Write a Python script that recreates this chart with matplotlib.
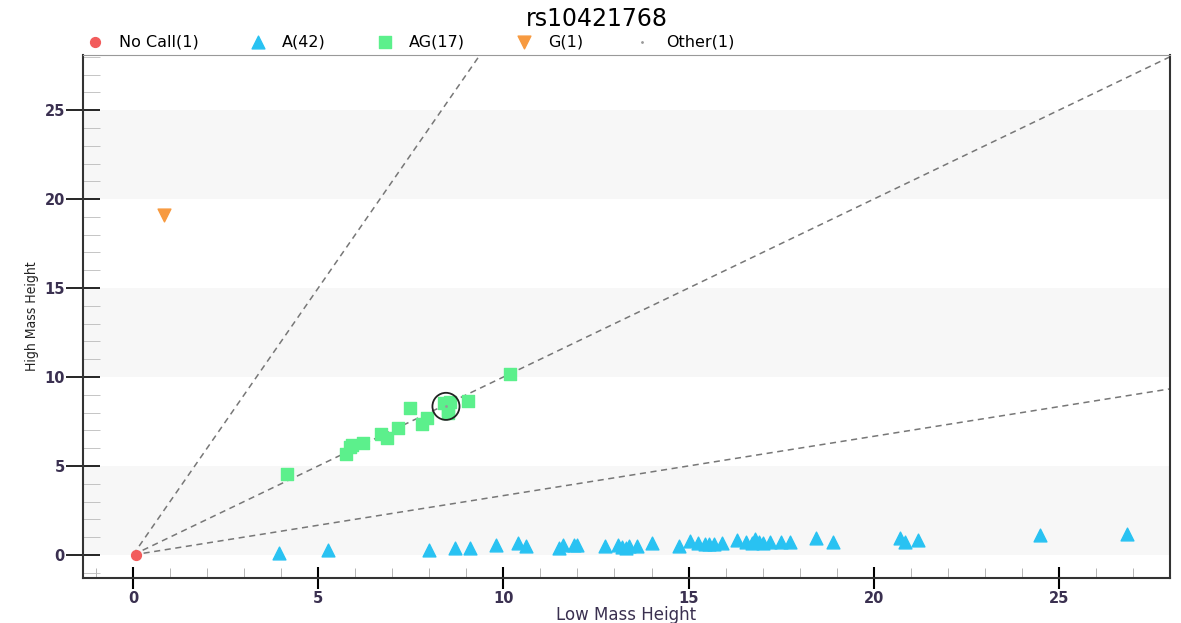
import numpy as np
import matplotlib.pyplot as plt
from matplotlib.ticker import MultipleLocator

# genotype cluster data (low mass height, high mass height)
nocall_x = [0.08]
nocall_y = [0.0]

a_x = [3.95, 5.27, 8.0, 8.7, 9.1, 9.8, 10.4, 10.6, 11.5, 11.6, 11.9, 12.0,
       12.75, 13.1, 13.2, 13.3, 13.4, 13.6, 14.0, 14.75, 15.05, 15.25, 15.45,
       15.55, 15.7, 15.9, 16.3, 16.55, 16.7, 16.8, 16.9, 17.0, 17.2, 17.5,
       17.75, 18.45, 18.9, 20.7, 20.85, 21.2, 24.5, 26.85]
a_y = [0.1, 0.28, 0.3, 0.4, 0.4, 0.55, 0.65, 0.5, 0.4, 0.55, 0.55, 0.55,
       0.5, 0.55, 0.45, 0.4, 0.5, 0.5, 0.65, 0.5, 0.8, 0.65, 0.6,
       0.6, 0.6, 0.65, 0.85, 0.7, 0.65, 0.9, 0.75, 0.65, 0.7, 0.75,
       0.75, 0.95, 0.7, 0.95, 0.7, 0.85, 1.1, 1.2]

ag_x = [4.16, 5.76, 5.86, 5.9, 6.2, 6.7, 6.86, 7.16, 7.49, 7.8, 7.95,
        8.4, 8.5, 8.57, 8.5, 9.05, 10.19]
ag_y = [4.55, 5.67, 6.07, 6.2, 6.3, 6.8, 6.57, 7.13, 8.26, 7.36, 7.7,
        8.54, 8.15, 8.6, 8.0, 8.65, 10.17]

g_x = [0.84]
g_y = [19.1]

other_x = [8.45]
other_y = [8.35]

# cluster boundary slopes
slopes = [3.0, 1.0, 1 / 3]

fig = plt.figure(figsize=(11.81, 6.23), dpi=100)
ax = fig.add_axes([0.0703, 0.0722, 0.9204, 0.8395])

xmin, xmax = -1.35, 28.0
ymin, ymax = -1.3, 28.1

# alternating grey bands
for lo in [0, 10, 20]:
    ax.axhspan(lo, lo + 5, color='#f7f7f7', zorder=0, lw=0)

xs = np.array([0, xmax])
for s in slopes:
    ax.plot(xs, s * xs, color='#777777', lw=1.1, ls=(0, (4, 3)), zorder=1)

ax.scatter(nocall_x, nocall_y, marker='o', s=50, color='#f25c5c',
           label='No Call(1)', zorder=3)
ax.scatter(a_x, a_y, marker='^', s=85, color='#29c2f2',
           label='A(42)', zorder=3)
ax.scatter(ag_x, ag_y, marker='s', s=70, color='#5cf08c',
           label='AG(17)', zorder=3)
ax.scatter(g_x, g_y, marker='v', s=85, color='#f79a40',
           label='G(1)', zorder=3)
ax.scatter(other_x, other_y, marker='.', s=4, color='#999999',
           label='Other(1)', zorder=3)
# highlight ring
ax.scatter(other_x, other_y, marker='o', s=380, facecolors='none',
           edgecolors='#222222', linewidths=1.3, zorder=4)

ax.set_xlim(xmin, xmax)
ax.set_ylim(ymin, ymax)
ax.xaxis.set_major_locator(MultipleLocator(5))
ax.xaxis.set_minor_locator(MultipleLocator(1))
ax.yaxis.set_major_locator(MultipleLocator(5))
ax.yaxis.set_minor_locator(MultipleLocator(1))
ax.tick_params(axis='x', which='major', direction='inout', length=16,
               width=1.5, labelsize=10.5, labelcolor='#3a3050', pad=1)
ax.tick_params(axis='x', which='minor', direction='in', length=7,
               color='#aaaaaa')
ax.tick_params(axis='y', which='major', direction='inout', length=24,
               width=1.2, labelsize=10.5, labelcolor='#3a3050', pad=1)
ax.tick_params(axis='y', which='minor', direction='in', length=12,
               color='#bbbbbb')
for lbl in ax.get_xticklabels() + ax.get_yticklabels():
    lbl.set_fontweight('bold')

for side in ['left', 'bottom', 'right']:
    ax.spines[side].set_color('#333333')
    ax.spines[side].set_linewidth(1.5)
ax.spines['top'].set_color('#999999')

ax.set_xlabel('Low Mass Height', fontsize=12, color='#3a3050', labelpad=0)
ax.set_ylabel('High Mass Height', fontsize=10, color='#222222', labelpad=4,
              fontstretch='condensed')

fig.text(0.505, 0.97, 'rs10421768', ha='center', va='center', fontsize=17)
fig.legend(loc='center left', bbox_to_anchor=(0.074, 0.933), ncol=5,
           frameon=False, fontsize=11.5, handlelength=1.0, handletextpad=1.0,
           columnspacing=3.2, borderpad=0, borderaxespad=0)

fig.savefig('out.png', dpi=100)
